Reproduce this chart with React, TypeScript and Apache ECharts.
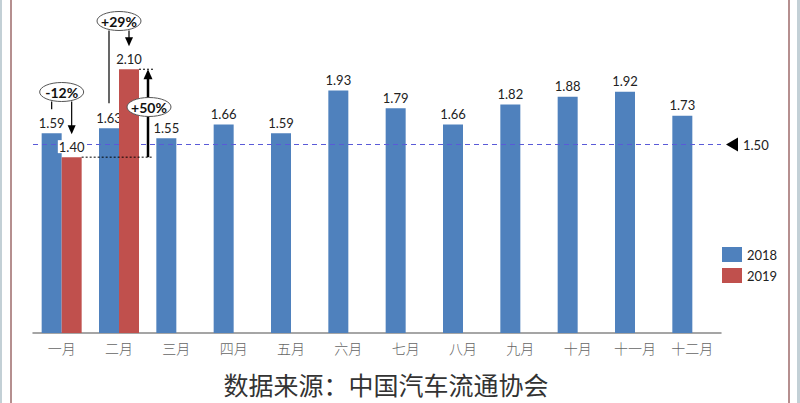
import React, { useEffect, useRef } from "react";
import * as echarts from "echarts";

const categories = ["一月", "二月", "三月", "四月", "五月", "六月", "七月", "八月", "九月", "十月", "十一月", "十二月"];
const values2018 = [1.59, 1.63, 1.55, 1.66, 1.59, 1.93, 1.79, 1.66, 1.82, 1.88, 1.92, 1.73];
const values2019: (number | null)[] = [1.4, 2.1, null, null, null, null, null, null, null, null, null, null];
const seriesNames = ["2018", "2019"];
const referenceValue = 1.5;
const changeLabels = ["-12%", "+29%", "+50%"];
const sourceText = "数据来源：中国汽车流通协会";

const BLUE = "#4F81BD";
const RED = "#C0504D";
const NUM_FONT = "Lato, 'Open Sans', sans-serif";

export default function App() {
  const chartRef = useRef<HTMLDivElement>(null);

  useEffect(() => {
    if (!chartRef.current) return;
    const chart = echarts.init(chartRef.current, undefined, { renderer: "svg" });

    const valueLabel = {
      show: true,
      position: "top" as const,
      distance: 4,
      color: "#222",
      fontSize: 13,
      fontFamily: NUM_FONT,
      formatter: (p: any) => (p.value == null ? "" : Number(p.value).toFixed(2)),
    };

    chart.setOption({
      animation: false,
      backgroundColor: "#fff",
      grid: { left: 33, right: 79, top: 19, bottom: 70 },
      legend: {
        orient: "vertical",
        left: 717,
        top: 242,
        itemWidth: 20,
        itemHeight: 15,
        itemGap: 6,
        icon: "rect",
        textStyle: { color: "#222", fontSize: 13, fontFamily: NUM_FONT },
        data: seriesNames,
      },
      xAxis: {
        type: "category",
        data: categories,
        axisLine: { lineStyle: { color: "#888", width: 1.5 } },
        axisTick: { show: false },
        axisLabel: {
          color: "#666",
          fontSize: 14,
          margin: 8,
          fontFamily: "'Noto Sans CJK SC', sans-serif",
          fontWeight: 300,
        },
      },
      yAxis: { type: "value", min: 0, max: 2.5, show: false },
      series: [
        {
          name: seriesNames[0],
          type: "bar",
          barWidth: 20,
          barGap: "0%",
          itemStyle: { color: BLUE },
          label: valueLabel,
          data: values2018,
          markLine: {
            silent: true,
            symbol: "none",
            label: { show: false },
            lineStyle: { type: [5, 4], color: "#5a5ad8", width: 1.2 },
            data: [{ yAxis: referenceValue }],
          },
        },
        {
          name: seriesNames[1],
          type: "bar",
          z: 6,
          barWidth: 20,
          itemStyle: { color: RED },
          label: { ...valueLabel, backgroundColor: "#fff", padding: [0, 1] },
          data: values2019,
        },
      ],
    });

    // annotation positions derived from the chart's own scales
    const px = (i: number, v: number) => chart.convertToPixel({ seriesIndex: 0 }, [i, v]) as number[];
    const half = 10;
    const [c0, y0a] = px(0, values2018[0]);
    const [, y0b] = px(0, values2019[0] as number);
    const [c1, y1a] = px(1, values2018[1]);
    const [, y1b] = px(1, values2019[1] as number);
    const [, yRef] = px(0, referenceValue);
    const gridRight = c0 + (categories.length - 0.5) * (c1 - c0);

    const ink = "#000";
    const rx = 22;
    const ry = 9.5;
    const ellipse = (cx: number, cy: number, text: string) => [
      {
        type: "ellipse",
        z: 100,
        shape: { cx, cy, rx, ry },
        style: { fill: "#fff", stroke: "#555", lineWidth: 1 },
      },
      {
        type: "text",
        z: 101,
        x: cx,
        y: cy + 0.5,
        style: {
          text,
          fill: "#111",
          font: `bold 14px ${NUM_FONT}`,
          textAlign: "center",
          textVerticalAlign: "middle",
        },
      },
    ];
    const line = (x1: number, y1: number, x2: number, y2: number, w = 1.2, dash?: number[]) => ({
      type: "line",
      z: 99,
      shape: { x1, y1, x2, y2 },
      style: { stroke: ink, lineWidth: w, lineDash: dash },
    });
    const headDown = (x: number, y: number) => ({
      type: "polygon",
      z: 99,
      shape: { points: [[x - 4, y - 9], [x + 4, y - 9], [x, y]] },
      style: { fill: ink },
    });
    const headUp = (x: number, y: number) => ({
      type: "polygon",
      z: 99,
      shape: { points: [[x - 4.5, y + 10], [x + 4.5, y + 10], [x, y]] },
      style: { fill: ink },
    });

    const gap = 24;
    const e1y = 92;
    const e2y = 21;
    const arrowX = c1 + 2 * half + 9;

    chart.setOption({
      graphic: [
        // outer frame
        { type: "rect", shape: { x: 0, y: 0, width: 2, height: 403 }, style: { fill: "#c3d0d6" } },
        { type: "rect", shape: { x: 797, y: 0, width: 3, height: 403 }, style: { fill: "#c3d0d6" } },
        { type: "line", shape: { x1: 11, y1: 0, x2: 11, y2: 403 }, style: { stroke: "#9c6a6a", lineWidth: 1.5 } },
        { type: "line", shape: { x1: 789, y1: 0, x2: 789, y2: 403 }, style: { stroke: "#9c6a6a", lineWidth: 1.5 } },

        // -12%
        ...ellipse(c0, e1y, changeLabels[0]),
        line(c0 - half, e1y + ry, c0 - half, y0a - gap),
        line(c0 + half, e1y + ry, c0 + half, y0b - gap - 4),
        headDown(c0 + half, y0b - gap + 1),

        // +29%
        ...ellipse(c1, e2y, changeLabels[1]),
        line(c1 - half, e2y + ry, c1 - half, y1a - gap - 1),
        line(c1 + half, e2y + ry, c1 + half, y1b - gap - 4),
        headDown(c1 + half, y1b - gap + 1),

        // +50%
        line(c0 + 2 * half, y0b, arrowX + 5, y0b, 1, [2, 2]),
        line(c1 + 2 * half, y1b, arrowX + 5, y1b, 1, [2, 2]),
        line(arrowX, y0b, arrowX, y1b + 6, 2.5),
        headUp(arrowX, y1b),
        ...ellipse(arrowX + 1, 107, changeLabels[2]),

        // reference marker
        {
          type: "polygon",
          z: 99,
          shape: { points: [[gridRight + 5, yRef], [gridRight + 17, yRef - 7], [gridRight + 17, yRef + 7]] },
          style: { fill: ink },
        },
        {
          type: "text",
          z: 99,
          x: gridRight + 22,
          y: yRef,
          style: {
            text: referenceValue.toFixed(2),
            fill: "#222",
            font: `13px ${NUM_FONT}`,
            textAlign: "left",
            textVerticalAlign: "middle",
          },
        },

        // source
        {
          type: "text",
          x: 386,
          y: 371,
          style: {
            text: sourceText,
            fill: "#333",
            font: "25px 'Noto Sans CJK SC', sans-serif",
            textAlign: "center",
            textVerticalAlign: "top",
          },
        },
      ],
    });

    return () => chart.dispose();
  }, []);

  return (
    <div style={{ position: "fixed", left: 0, top: 0, width: 800, height: 403, background: "#fff" }}>
      <div ref={chartRef} style={{ width: 800, height: 403 }} />
    </div>
  );
}
